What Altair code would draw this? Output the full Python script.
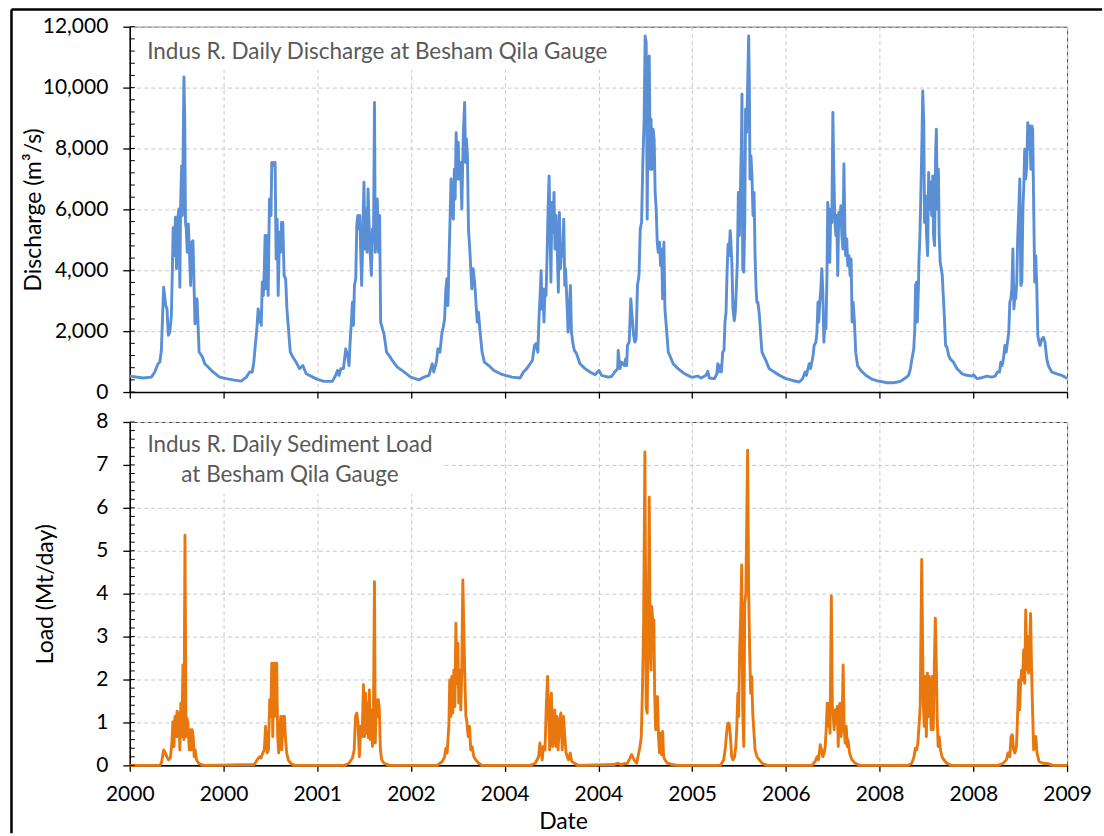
import json
import altair as alt
import pandas as pd

# ---------------- data ----------------
# x tick labels exactly as printed on the reference axis
X_TICK_LABELS = ["2000", "2000", "2001", "2002", "2004", "2004",
                 "2005", "2006", "2008", "2008", "2009"]

# Discharge (m3/s): (day of season-year, value) for each of the 10 seasons
q_s0 = [(0,525),(52,460),(84,490),(97,650),(110,930),(117,980),(123,1370),(127,2300),(132,3440),(140,2840),(145,2730),(150,1860),(156,1970),(162,2500),(166,4050),(169,5400),(172,4480),(178,5740),(182,4050),(185,5570),(191,6010),(195,3440),(198,6180),(202,7430),(205,5800),(211,10350),(214,9000),(217,5570),(220,5360),(224,4590),(228,5520),(233,4480),(237,3500),(241,4920),(246,4970),(250,3610),(254,2240),(258,3060),(262,3060),(266,2190),(270,1310),(275,1260),(283,1150),(292,930),(305,820),(324,660),(350,490)]
q_s1 = [(11,440),(37,400),(69,360),(89,490),(102,660),(112,660),(118,980),(125,1640),(130,2080),(135,2730),(139,2300),(143,2620),(147,2190),(151,3610),(155,3170),(159,4050),(162,5140),(166,3390),(170,5140),(174,3170),(179,6340),(185,5800),(188,7540),(192,7540),(197,7430),(201,7540),(205,4370),(209,5680),(213,3170),(218,5250),(222,4590),(226,5570),(231,5570),(236,3830),(242,3720),(247,2730),(253,2080),(260,1310),(270,1150),(283,980),(296,770),(309,870),(322,600),(348,490)]
q_s2 = [(1,415),(27,350),(59,350),(72,550),(79,710),(85,550),(92,770),(102,770),(111,1420),(118,1200),(124,870),(128,1640),(133,2300),(137,2950),(141,2190),(145,3500),(150,3720),(154,5470),(158,5800),(162,5360),(166,5800),(169,4700),(173,3500),(177,4920),(182,6890),(186,4700),(190,6010),(194,4590),(198,6670),(202,5470),(206,4590),(211,3830),(215,5360),(219,4920),(223,9510),(226,4590),(230,5030),(234,6340),(239,4590),(243,5800),(247,2300),(254,2080),(260,1910),(270,1310),(280,1200),(292,1040),(312,820),(338,660),(364,490)]
q_s3 = [(31,400),(51,490),(70,550),(83,930),(89,660),(99,980),(105,1420),(113,1310),(121,1970),(126,2130),(131,2400),(136,3390),(140,3720),(144,2840),(148,4260),(152,5570),(156,7000),(159,6230),(165,5680),(169,7320),(172,6340),(176,8520),(180,7000),(184,8200),(188,7000),(193,7540),(198,6010),(204,8520),(209,9510),(213,7540),(216,8310),(220,7760),(224,5360),(229,4700),(233,4050),(237,3390),(242,4050),(248,3610),(253,2950),(258,2300),(263,2620),(268,2080),(277,1310),(286,980),(303,870),(323,710),(349,600)]
q_s4 = [(2,550),(28,490),(60,460),(73,660),(86,770),(99,930),(108,1040),(116,1530),(122,1590),(129,1310),(134,2510),(138,3170),(142,3990),(145,2730),(149,3390),(153,2300),(157,3390),(161,3170),(165,4480),(169,6010),(173,7100),(177,5140),(180,3610),(184,6230),(188,5250),(192,6560),(196,4700),(200,5800),(205,4590),(209,3280),(213,5900),(217,4050),(221,4590),(225,4480),(230,5680),(234,3500),(237,4050),(243,2840),(247,1970),(252,2730),(256,3500),(260,1970),(265,1640),(271,1370),(280,1260),(293,930),(313,770),(332,660),(352,570)]
q_s5 = [(2,710),(12,550),(38,490),(51,510),(64,660),(75,770),(77,1370),(84,770),(90,980),(101,870),(106,1090),(110,870),(113,1530),(120,1640),(126,3060),(132,2400),(137,1860),(142,1640),(147,1750),(152,3500),(158,3830),(163,5360),(168,5570),(173,7540),(178,8960),(182,11700),(186,11480),(190,5680),(194,10490),(198,11040),(202,7320),(205,8960),(209,7320),(213,8630),(217,8310),(221,6560),(225,6010),(229,4920),(233,4590),(238,4920),(242,4150),(246,4700),(250,3060),(255,4920),(259,2730),(265,2080),(272,1310),(278,1200),(291,930),(310,770),(336,600),(362,490)]
q_s6 = [(2,490),(22,525),(35,460),(54,550),(61,680),(67,460),(87,440),(96,600),(100,930),(103,660),(109,870),(114,660),(119,1310),(124,1370),(128,2300),(132,2620),(136,3940),(140,4860),(144,4480),(148,5300),(151,4920),(155,4150),(159,2730),(164,2350),(168,2620),(172,3390),(176,4260),(180,6560),(184,5140),(188,6670),(192,8200),(194,9780),(197,4050),(201,3940),(205,5680),(208,9290),(212,8530),(216,9950),(220,11700),(223,9950),(225,7000),(229,7760),(233,7100),(237,5800),(241,6560),(245,4480),(249,3390),(252,2950),(256,2950),(262,2510),(267,1860),(272,1310),(281,1150),(290,980),(300,770),(320,660),(339,550)]
q_s7 = [(0,440),(26,380),(52,330),(65,440),(75,660),(80,550),(86,770),(91,930),(96,770),(101,980),(106,1200),(110,1530),(117,1640),(121,1970),(125,2950),(128,2300),(132,2950),(136,3390),(140,4050),(144,3280),(148,1640),(152,2300),(156,2080),(160,3830),(163,6230),(167,5800),(171,4260),(175,6010),(179,5570),(183,9180),(187,7100),(191,5570),(195,5140),(198,5800),(202,3830),(206,5900),(210,5470),(214,6120),(218,5140),(222,4700),(226,7490),(230,5250),(233,4480),(237,5030),(241,4150),(246,4480),(250,3830),(254,4370),(258,2300),(262,2950),(267,2300),(272,1310),(279,870),(292,710),(311,550),(337,415),(363,350)]
q_s8 = [(3,350),(29,305),(55,305),(81,350),(100,460),(113,550),(120,770),(126,1090),(133,1420),(137,2080),(140,3500),(144,3610),(147,2300),(151,3390),(153,4260),(157,5140),(161,6670),(165,8310),(168,9890),(172,8850),(175,5570),(179,6450),(183,5140),(187,4480),(191,7210),(195,6010),(199,6890),(203,5800),(207,7100),(210,5140),(214,4810),(218,7760),(221,8630),(225,6010),(229,7320),(232,5140),(236,4260),(240,4050),(244,3830),(248,3170),(252,2510),(257,1530),(262,1480),(269,1200),(275,1090),(288,980),(301,770),(321,600),(340,550),(359,525)]
q_s9 = [(1,570),(14,440),(27,460),(53,525),(72,490),(85,525),(94,660),(102,660),(107,980),(112,870),(117,1090),(123,1530),(128,1310),(133,1640),(138,1970),(142,2950),(146,3060),(150,3390),(154,4700),(158,2730),(162,3170),(165,3060),(169,3610),(173,5140),(177,6010),(181,7000),(185,3500),(189,3610),(193,6010),(197,6890),(200,7980),(204,7000),(208,7430),(212,8850),(216,7980),(220,8740),(224,7320),(228,8740),(231,8630),(235,6120),(239,3610),(243,4480),(247,3500),(251,1860),(256,1640),(260,1530),(267,1750),(273,1800),(279,1640),(286,1090),(292,870),(305,660),(325,600),(344,550),(357,490),(365,440)]

# Sediment load (Mt/day): (day of season-year, value)
l_s0 = [(0,0),(116,0),(123,0.05),(132,0.36),(138,0.29),(145,0.2),(151,0.13),(158,0.17),(164,0.52),(168,1.02),(172,0.44),(176,1.14),(180,0.67),(184,1.26),(188,0.67),(192,1.22),(195,0.36),(199,1.45),(203,0.67),(207,2.34),(211,0.6),(215,5.36),(219,0.67),(223,1.1),(226,0.98),(232,0.36),(236,0.83),(239,0.36),(243,0.83),(247,0.67),(251,0.2),(255,0.36),(260,0.13),(268,0.05),(278,0.02),(291,0)]
l_s1 = [(120,0.02),(131,0.13),(140,0.2),(146,0.17),(153,0.29),(159,0.36),(164,0.91),(170,0.29),(175,0.36),(180,1.53),(184,1.14),(188,2.38),(192,0.67),(195,2.38),(199,1.14),(203,2.38),(207,2.38),(211,0.67),(215,0.29),(219,0.75),(223,1.14),(227,0.36),(232,1.14),(237,1.14),(241,0.67),(246,0.29),(252,0.13),(263,0.04),(276,0)]
l_s2 = [(105,0),(124,0.05),(137,0.17),(144,0.36),(149,1.14),(154,1.22),(159,0.98),(164,0.2),(170,0.91),(175,0.67),(180,1.88),(184,0.67),(188,1.68),(192,0.75),(195,1.45),(199,0.64),(203,1.76),(207,0.6),(211,1.29),(215,0.44),(219,1.29),(223,4.28),(226,0.52),(230,1.53),(234,1.14),(238,1.53),(242,1.29),(246,0.36),(251,0.13),(260,0.05),(280,0)]
l_s3 = [(102,0),(122,0.09),(131,0.2),(136,0.4),(141,0.29),(148,0.98),(151,1.99),(155,1.14),(159,2.07),(163,1.22),(167,2.22),(171,1.37),(175,3.31),(179,1.91),(183,2.84),(186,1.45),(190,2.22),(194,1.29),(198,2.22),(202,4.32),(206,3.15),(210,1.99),(214,1.14),(217,1.06),(223,0.67),(228,0.91),(233,0.36),(238,0.44),(245,0.2),(252,0.13),(264,0.05),(277,0)]
l_s4 = [(100,0),(119,0.05),(132,0.2),(137,0.52),(141,0.36),(146,0.13),(151,0.44),(157,0.36),(162,1.37),(167,2.07),(171,1.29),(175,0.36),(179,1.37),(182,1.68),(186,0.44),(190,0.6),(195,1.29),(199,0.44),(203,1.14),(208,0.36),(214,1.06),(219,1.22),(224,0.36),(229,1.14),(234,0.67),(239,0.29),(248,0.13),(255,0.29),(261,0.09),(274,0.04),(287,0)]
l_s5 = [(61,0.02),(76,0.05),(87,0.02),(113,0.05),(123,0.17),(129,0.25),(139,0.13),(149,0.05),(157,0.29),(162,0.44),(167,0.67),(172,1.91),(176,3.31),(181,7.30),(186,1.37),(190,1.22),(194,3.46),(198,6.25),(201,3.08),(205,2.22),(208,3.70),(212,3.31),(216,3.39),(219,1.68),(223,0.83),(227,1.60),(230,1.60),(234,0.67),(238,0.29),(242,0.75),(246,0.25),(250,0.79),(254,0.2),(259,0.13),(268,0.05),(287,0.02),(307,0)]
l_s6 = [(110,0),(123,0.13),(130,0.44),(134,0.75),(139,0.98),(144,0.98),(149,0.67),(154,0.2),(159,0.13),(165,0.2),(170,0.44),(174,0.91),(178,1.68),(181,1.14),(185,2.69),(189,3.46),(193,4.67),(197,1.29),(201,0.44),(205,3.77),(209,4.0),(212,5.40),(216,7.34),(220,4.08),(224,2.69),(228,1.68),(232,2.07),(236,1.22),(240,0.83),(245,0.36),(253,0.2),(262,0.13),(272,0.05),(291,0)]
l_s7 = [(101,0),(114,0.09),(121,0.2),(127,0.13),(134,0.48),(139,0.36),(144,0.2),(149,0.29),(153,0.44),(157,0.83),(161,1.45),(165,0.91),(169,1.45),(172,0.75),(177,3.95),(181,1.37),(184,1.2),(188,0.83),(192,1.29),(196,0.98),(200,1.37),(204,0.44),(207,1.37),(211,1.45),(215,0.67),(219,0.98),(223,2.34),(227,0.91),(231,0.52),(235,0.91),(239,0.44),(242,0.6),(248,0.29),(257,0.13),(270,0.05),(289,0)]
l_s8 = [(112,0),(125,0.05),(134,0.2),(139,0.4),(144,0.36),(149,0.52),(154,0.98),(158,1.37),(164,4.8),(170,1.45),(174,0.91),(178,2.07),(182,0.67),(186,2.15),(189,1.14),(193,2.07),(197,1.53),(201,0.83),(205,2.07),(209,0.83),(213,2.30),(217,3.43),(221,2.30),(224,1.14),(228,0.44),(232,0.67),(237,0.36),(243,0.2),(250,0.13),(261,0.05),(280,0)]
l_s9 = [(96,0),(116,0.05),(129,0.13),(135,0.29),(142,0.2),(147,0.67),(152,0.71),(157,0.36),(162,0.29),(168,0.44),(173,1.29),(177,1.99),(180,1.29),(184,1.91),(188,2.22),(192,1.99),(196,2.69),(200,1.91),(204,3.62),(208,2.22),(212,3.0),(215,2.15),(219,2.69),(223,3.54),(227,2.15),(231,1.22),(235,0.36),(239,0.6),(243,0.67),(248,0.29),(256,0.09),(271,0.05),(291,0.04),(310,0),(365,0)]

Q_SEASONS = [q_s0, q_s1, q_s2, q_s3, q_s4, q_s5, q_s6, q_s7, q_s8, q_s9]
L_SEASONS = [l_s0, l_s1, l_s2, l_s3, l_s4, l_s5, l_s6, l_s7, l_s8, l_s9]

Q_MAJOR = [0, 2000, 4000, 6000, 8000, 10000, 12000]
L_MAJOR = [0, 1, 2, 3, 4, 5, 6, 7, 8]
Q_MINOR = [i * 400 for i in range(31)]
L_MINOR = [round(i * 0.2, 1) for i in range(41)]


def to_frame(seasons, name):
    rows = []
    for yi, season in enumerate(seasons):
        for day, val in season:
            rows.append({"t": yi + day / 365.0, name: val})
    return pd.DataFrame(rows)


q_df = to_frame(Q_SEASONS, "q")
l_df = to_frame(L_SEASONS, "load")

# ---------------- styling ----------------
FONT = "Lato"
W = 939
H_TOP = 366
H_BOT = 344
BLUE = "#5A8FD6"
ORANGE = "#E8780E"
TITLE_GRAY = "#595959"

one = pd.DataFrame({"a": [0]})
label_expr = json.dumps(X_TICK_LABELS).replace('"', "'") + "[datum.value]"
x_scale = alt.Scale(domain=[0, 10], nice=False, zero=False)

# ---------------- top panel: discharge ----------------
q_scale = alt.Scale(domain=[0, 12000], nice=False)
q_yaxis = alt.Axis(values=Q_MAJOR, labelExpr="format(datum.value, ',')", tickSize=7,
                   labelPadding=15, title="Discharge (m³/s)", titleX=-84, grid=True)

q_line = alt.Chart(q_df).mark_line(color=BLUE, strokeWidth=2.9, strokeJoin="round").encode(
    x=alt.X("t:Q", scale=x_scale,
            axis=alt.Axis(values=list(range(11)), labels=False, title=None,
                          tickSize=6, grid=True)),
    y=alt.Y("q:Q", scale=q_scale, axis=q_yaxis),
)
q_box = alt.Chart(one).mark_rect(fill="white").encode(
    x=alt.value(1.5), x2=alt.value(487), y=alt.value(1), y2=alt.value(43)
)
q_title = alt.Chart(one).mark_text(
    text="Indus R. Daily Discharge at Besham Qila Gauge", align="left",
    baseline="alphabetic", font=FONT, fontSize=22.5, color=TITLE_GRAY
).encode(x=alt.value(17.5), y=alt.value(32.5))
q_minor = alt.Chart(pd.DataFrame({"q": Q_MINOR})).mark_rule(color="black", strokeWidth=1).encode(
    y=alt.Y("q:Q", scale=q_scale, axis=q_yaxis), x=alt.value(0), x2=alt.value(5)
)
frame_top = alt.Chart(one).mark_rule(color="black", strokeWidth=2.5).encode(
    x=alt.value(-118.5), x2=alt.value(974), y=alt.value(-17.3)
)
frame_left = alt.Chart(one).mark_rule(color="black", strokeWidth=2.5).encode(
    x=alt.value(-118.5), y=alt.value(-17.3), y2=alt.value(808)
)
top = alt.layer(q_line, q_box, q_title, q_minor, frame_top, frame_left).properties(
    width=W, height=H_TOP
)

# ---------------- bottom panel: sediment load ----------------
l_scale = alt.Scale(domain=[0, 8], nice=False)
l_yaxis = alt.Axis(values=L_MAJOR, labelExpr="format(datum.value, 'd')", tickSize=7,
                   labelPadding=15, title="Load (Mt/day)", titleX=-72, grid=True)

l_line = alt.Chart(l_df).mark_line(color=ORANGE, strokeWidth=2.9, strokeJoin="round").encode(
    x=alt.X("t:Q", scale=x_scale,
            axis=alt.Axis(values=list(range(11)), labelExpr=label_expr, labelFlush=False,
                          labelOverlap=False, tickSize=6, labelPadding=12,
                          title="Date", titleX=434, titlePadding=6, grid=True)),
    y=alt.Y("load:Q", scale=l_scale, axis=l_yaxis),
)
l_box = alt.Chart(one).mark_rect(fill="white").encode(
    x=alt.value(1.5), x2=alt.value(312), y=alt.value(1), y2=alt.value(72)
)
l_title = alt.Chart(one).mark_text(
    text=["Indus R. Daily Sediment Load", "at Besham Qila Gauge"], align="center",
    baseline="alphabetic", lineHeight=30, font=FONT, fontSize=22.5, color=TITLE_GRAY
).encode(x=alt.value(160.5), y=alt.value(30.5))
l_minor = alt.Chart(pd.DataFrame({"load": L_MINOR})).mark_rule(color="black", strokeWidth=1).encode(
    y=alt.Y("load:Q", scale=l_scale, axis=l_yaxis), x=alt.value(0), x2=alt.value(5)
)
bottom = alt.layer(l_line, l_box, l_title, l_minor).properties(width=W, height=H_BOT)

chart = alt.vconcat(top, bottom, spacing=30, bounds="flush").properties(
    padding={"left": 9, "top": 6, "right": 0, "bottom": 0},
    background="white",
).configure_view(
    stroke="#404040", strokeWidth=1
).configure_axis(
    labelFont=FONT, labelFontSize=21, labelColor="#000000",
    titleFont=FONT, titleFontSize=23, titleFontWeight="normal", titleColor="#000000",
    domainColor="#000000", domainWidth=1.5, tickColor="#000000", tickWidth=1.3,
    gridColor="#c8c8c8", gridDash=[4, 3], gridWidth=1,
)

chart.save("out.html", embed_options={"renderer": "svg", "actions": False})
